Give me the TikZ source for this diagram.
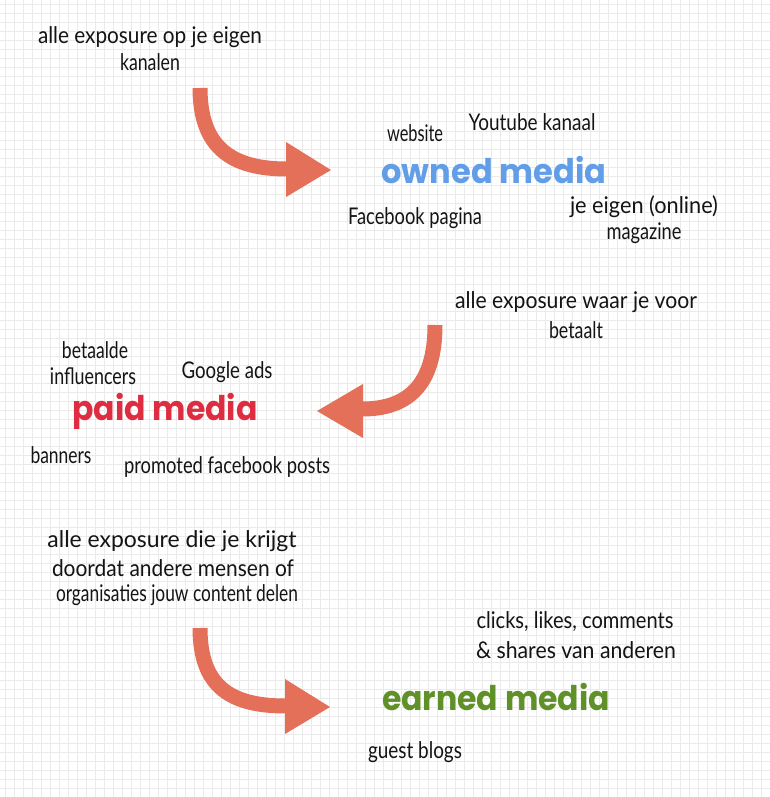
\documentclass[tikz,border=0pt]{standalone}
\usepackage{fontspec}
\setmainfont{Lato}
\newfontfamily\titlefont{Poppins}
\definecolor{gridc}{RGB}{234,234,234}
\definecolor{arrowc}{RGB}{229,112,90}
\definecolor{ownedc}{RGB}{98,158,232}
\definecolor{paidc}{RGB}{222,45,65}
\definecolor{earnedc}{RGB}{95,145,40}
\newcommand{\hw}[2]{\resizebox{#1pt}{\height}{#2}}
\begin{document}
\begin{tikzpicture}[x=1pt,y=-1pt,
  hand/.style={font=\fontsize{23}{26}\selectfont, inner sep=0pt, text=black!92},
  titletxt/.style={font=\titlefont\bfseries\fontsize{34}{38}\selectfont, inner sep=0pt},
  bigarrow/.style={draw=arrowc, line width=15pt, line cap=butt},
  arrowhead/.style={fill=arrowc}]
\useasboundingbox (0,0) rectangle (770,797);
\fill[white] (0,0) rectangle (770,797);
\foreach \v in {5,14,...,770} \draw[gridc, line width=1pt] (\v,0) -- (\v,797);
\foreach \v in {5,14,...,797} \draw[gridc, line width=1pt] (0,\v) -- (770,\v);

% owned media block
\node[hand] (t1a) at (150,37) {\hw{224}{alle exposure op je eigen}};
\node[hand] (t1b) at (150,62) {\hw{60}{kanalen}};
\node[hand] (web) at (415,133) {\hw{56}{website}};
\node[hand] (yt) at (532,122) {\hw{127}{Youtube kanaal}};
\node[titletxt, text=ownedc] (owned) at (494,170) {\hw{225}{owned media}};
\node[hand] (fb) at (415,218) {\hw{134}{Facebook pagina}};
\node[hand] (mag1) at (644,207) {\hw{148}{je eigen (online)}};
\node[hand] (mag2) at (644,233) {\hw{75}{magazine}};

% paid media block
\node[hand] (t2a) at (576,302) {\hw{242}{alle exposure waar je voor}};
\node[hand] (t2b) at (576,330) {\hw{54}{betaalt}};
\node[hand] (bet) at (95,350) {\hw{66}{betaalde}};
\node[hand] (inf) at (93,376) {\hw{86}{influencers}};
\node[hand] (gads) at (227,372) {\hw{91}{Google ads}};
\node[titletxt, text=paidc] (paid) at (165,411) {\hw{185}{paid media}};
\node[hand] (ban) at (61,455) {\hw{61}{banners}};
\node[hand] (promo) at (227,467) {\hw{206}{promoted facebook posts}};

% earned media block
\node[hand] (t3a) at (172,541) {\hw{249}{alle exposure die je krijgt}};
\node[hand] (t3b) at (173,568) {\hw{242}{doordat andere mensen of}};
\node[hand] (t3c) at (177,595) {\hw{242}{organisaties jouw content delen}};
\node[hand] (cl1) at (575,622) {\hw{197}{clicks, likes, comments}};
\node[hand] (cl2) at (576,650) {\hw{200}{\& shares van anderen}};
\node[titletxt, text=earnedc] (earned) at (496,697) {\hw{228}{earned media}};
\node[hand] (gb) at (415,752) {\hw{94}{guest blogs}};

% arrows
\coordinate (a1s) at (200,88);
\coordinate (a1e) at (287,169);
\coordinate (h1a) at (286,142);
\coordinate (h1t) at (331,170);
\coordinate (h1b) at (286,197);
\draw[bigarrow] (a1s) .. controls (200,148) and (232,169) .. (a1e);
\fill[arrowhead] (h1a) -- (h1t) -- (h1b) -- cycle;

\coordinate (a2s) at (435,325);
\coordinate (a2e) at (362,409);
\coordinate (h2a) at (363,384);
\coordinate (h2t) at (317,411);
\coordinate (h2b) at (363,438);
\draw[bigarrow] (a2s) .. controls (435,385) and (408,409) .. (a2e);
\fill[arrowhead] (h2a) -- (h2t) -- (h2b) -- cycle;

\coordinate (a3s) at (200,628);
\coordinate (a3e) at (286,706);
\coordinate (h3a) at (285,679);
\coordinate (h3t) at (330,707);
\coordinate (h3b) at (285,734);
\draw[bigarrow] (a3s) .. controls (200,688) and (232,706) .. (a3e);
\fill[arrowhead] (h3a) -- (h3t) -- (h3b) -- cycle;
\end{tikzpicture}
\end{document}
